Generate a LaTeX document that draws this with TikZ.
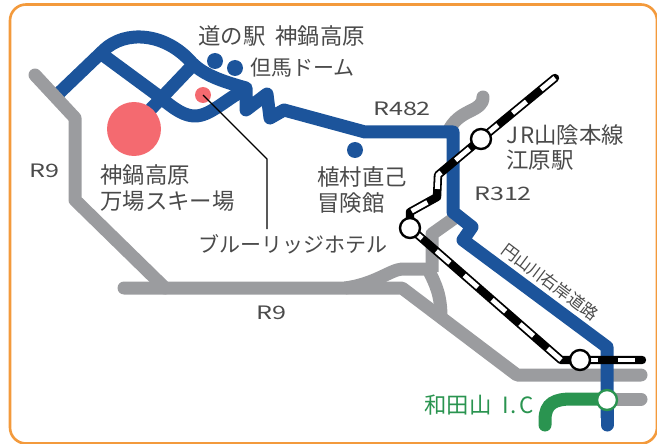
\documentclass[tikz,border=0pt]{standalone}
\usepackage{fontspec}
\setmainfont{Noto Sans CJK JP}
\definecolor{roadblue}{HTML}{1C549B}
\definecolor{roadgray}{HTML}{9B9C9F}
\definecolor{frameorange}{HTML}{F39A3C}
\definecolor{pinkdot}{HTML}{F46A70}
\definecolor{icgreen}{HTML}{2A9450}
\definecolor{labelgray}{HTML}{4A4A4A}
\tikzset{
  x=1pt,y=-1pt,
  grayroad/.style={draw=roadgray,line width=13pt,line cap=round,line join=round},
  blueroad/.style={draw=roadblue,line width=13pt,line join=round},
  railouter/.style={draw=black,line width=8.4pt,line cap=round,line join=round},
  railinner/.style={draw=white,line width=4.8pt,dash pattern=on 18pt off 19pt,line join=round},
  railpiece/.style={draw=white,line width=4.8pt},
  station/.style={circle,draw=black,line width=2.4pt,fill=white,minimum size=20pt,inner sep=0pt},
  dotblue/.style={circle,fill=roadblue,minimum size=16pt,inner sep=0pt},
  dotpink/.style={circle,fill=pinkdot,inner sep=0pt},
  lbl/.style={text=labelgray,font=\fontsize{22.4}{24}\selectfont,inner sep=0pt,anchor=west},
  rlbl/.style={text=labelgray,font=\fontsize{18.5}{22}\selectfont,inner sep=0pt,xscale=1.36,transform shape},
}
\begin{document}
\begin{tikzpicture}
\useasboundingbox (0,0) rectangle (657,444);
\draw[frameorange,line width=2.6pt,rounded corners=16pt] (10,4.5) rectangle (657,443.5);

% gray roads
\draw[grayroad] (124,288) -- (402,288) -- (517,375) -- (641,375);
\draw[grayroad,line cap=butt] (345,288) .. controls (375,284) and (390,270) .. (402,269) -- (428,269) .. controls (436,285) and (441,295) .. (441,318);
\draw[grayroad,line cap=butt] (432,272) -- (432,234) -- (456,217);
\draw[grayroad] (450,128) .. controls (462,108) and (483,112) .. (483,97);
\draw[grayroad] (607,399) -- (641,399);

% blue roads
\draw[blueroad] (57,95) -- (104,50) .. controls (125,30) and (165,32) .. (192,63) .. controls (205,76) and (225,82) .. (246,88)
  -- (246,110) -- (267,94) -- (270,118) -- (284,110) -- (365,132) -- (453,132) -- (453,212) -- (472,227) -- (463,240) -- (607,347) -- (607,418);
\draw[blueroad,line cap=round] (607,400) -- (607,425);
\draw[blueroad] (103,55) -- (160,97) .. controls (175,110) and (185,116) .. (195,116) .. controls (210,116) and (225,100) .. (244,90);
\draw[blueroad] (150,110) -- (190,68);

% left R9 drawn over the end of the blue road
\draw[grayroad] (35,75) -- (75,118) -- (75,200) -- (165,288);

% green
\draw[draw=icgreen,line width=13pt,line cap=round] (545,425) -- (545,420) .. controls (545,403) and (555,399) .. (572,399) -- (600,399);

% spots
\node[dotpink,minimum size=54pt] (ski) at (134,129) {};
\node[dotpink,minimum size=16pt] (hotel) at (203,95) {};
\node[dotblue] (michi) at (215,61) {};
\node[dotblue] (dome) at (235,68) {};
\node[dotblue] (uemura) at (355,150) {};
\coordinate (bend) at (267,159);
\coordinate (leaderend) at (267,229);
\draw[black,line width=1.2pt] (hotel.center) -- (bend) -- (leaderend);

% stations (positions)
\coordinate (railtop) at (555,78);
\coordinate (railright) at (642,360);
\coordinate (c1) at (438,175);
\coordinate (c2) at (437,197);
\coordinate (c3) at (410,212);
\coordinate (c4) at (561,360);
\coordinate (sEbara) at (481,139);
\coordinate (sMid) at (410,228);
\coordinate (sWada) at (580,360);

% railway
\draw[railouter] (railtop) -- (sEbara) -- (c1) -- (c2) -- (c3) -- (sMid) -- (c4) -- (railright);
\draw[railinner] (railtop) -- (sEbara) -- (c1) -- (c2) -- (c3);
\draw[railinner,dash phase=2pt] (sMid) -- (c4);
\coordinate (p1) at (590,360);
\coordinate (p2) at (598,360);
\coordinate (p3) at (618,360);
\coordinate (p4) at (635,360);
\draw[railpiece] (p1) -- (p2);
\draw[railpiece] (p3) -- (p4);

\node[station] (ebara) at (sEbara) {};
\node[station] (mid) at (sMid) {};
\node[station] (wadaya) at (sWada) {};
\node[circle,draw=icgreen,line width=2.4pt,fill=white,minimum size=20pt,inner sep=0pt] (ic) at (607,400) {};

% labels
\node[lbl] (l1) at (198,36) {道の駅\hspace{10pt}神鍋高原};
\node[lbl,font=\fontsize{21}{24}\selectfont] (l2) at (250,68) {但馬ドーム};
\node[lbl] (l3) at (100,175) {神鍋高原};
\node[lbl] (l4) at (100,201) {万場スキー場};
\node[lbl] (l5) at (317,177) {植村直己};
\node[lbl] (l6) at (317,203) {冒険館};
\node[lbl,font=\fontsize{21}{24}\selectfont] (l7) at (198,244) {ブルーリッジホテル};
\node[lbl] (l8) at (506,135) {J\kern2pt R山陰本線};
\node[lbl] (l9) at (506,160) {江原駅};
\node[rlbl] (r1) at (44,171) {R9};
\node[rlbl] (r2) at (271,313) {R9};
\node[rlbl] (r3) at (402,109) {R482};
\node[rlbl] (r4) at (503,194) {R312};
\node[text=labelgray,font=\fontsize{16.5}{18}\selectfont,inner sep=0pt,rotate=-37] (r5) at (550,282) {円山川右岸道路};
\node[lbl,text=icgreen] (l10) at (424,405) {和田山\hspace{11pt}I\kern2pt.\kern2pt C};
\end{tikzpicture}
\end{document}
